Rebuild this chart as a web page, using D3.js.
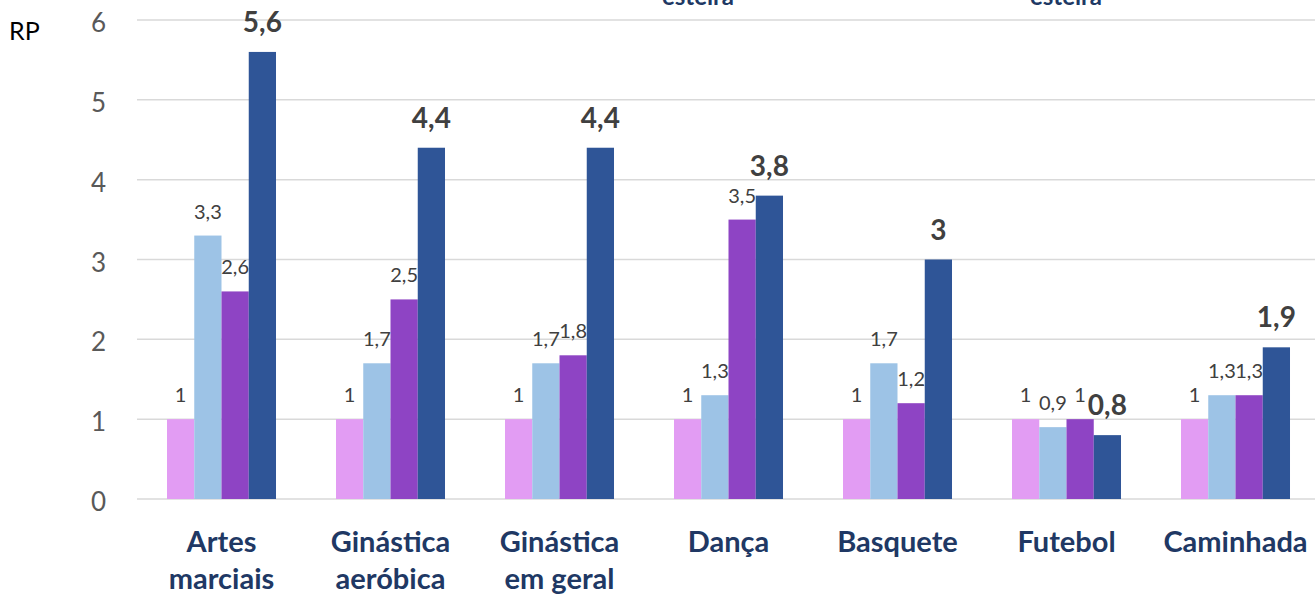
<!DOCTYPE html>
<html>
<head>
<meta charset="utf-8">
<script src="https://cdn.jsdelivr.net/npm/d3@7"></script>
<style>
  html, body { margin: 0; padding: 0; background: #fff; }
  svg { display: block; }
  text { font-family: Lato, "Open Sans", sans-serif; }
</style>
</head>
<body>
<svg id="chart" width="1315" height="594"></svg>
<script>
const categories = [
  ["Artes", "marciais"],
  ["Ginástica", "aeróbica"],
  ["Ginástica", "em geral"],
  ["Dança"],
  ["Basquete"],
  ["Futebol"],
  ["Caminhada"]
];
const seriesNames = ["s1", "s2", "s3", "s4"];
const series1 = [1, 1, 1, 1, 1, 1, 1];
const series2 = [3.3, 1.7, 1.7, 1.3, 1.7, 0.9, 1.3];
const series3 = [2.6, 2.5, 1.8, 3.5, 1.2, 1.0, 1.3];
const series4 = [5.6, 4.4, 4.4, 3.8, 3.0, 0.8, 1.9];
const yTicks = [0, 1, 2, 3, 4, 5, 6];
const legendFragments = ["esteira", "esteira"];
const colors = ["#E29CF3", "#9DC3E6", "#8E44C4", "#2F5597"];

const allSeries = [series1, series2, series3, series4];
const svg = d3.select("#chart");

const y = d3.scaleLinear().domain([0, 6]).range([499, 20]);
const x0 = d3.scaleBand().domain(d3.range(categories.length))
  .range([137, 1320]).paddingInner(0.355).paddingOuter(0.1775);
const x1 = d3.scaleBand().domain(seriesNames).range([0, x0.bandwidth()]);

// gridlines
svg.append("g").selectAll("line").data(yTicks).join("line")
  .attr("x1", 137).attr("x2", 1315)
  .attr("y1", d => y(d)).attr("y2", d => y(d))
  .attr("stroke", "#d9d9d9").attr("stroke-width", 1.5);

// y tick labels
svg.append("g").selectAll("text").data(yTicks).join("text")
  .attr("x", 106).attr("y", d => y(d) + 2)
  .attr("text-anchor", "end").attr("dominant-baseline", "central")
  .attr("fill", "#595959").attr("font-size", 26)
  .text(d => d);

svg.append("text").attr("x", 9).attr("y", 40)
  .attr("font-size", 25).attr("fill", "#000").text("RP");

// legend fragments (cut off at top)
const legendX = [698, 1066];
svg.append("g").selectAll("text").data(legendFragments).join("text")
  .attr("x", (d, i) => legendX[i]).attr("y", 5)
  .attr("text-anchor", "middle").attr("font-weight", "bold")
  .attr("font-size", 24).attr("fill", "#203864").text(d => d);

// bars
const groups = svg.append("g").selectAll("g").data(categories).join("g")
  .attr("transform", (d, i) => `translate(${x0(i)},0)`);

groups.each(function(cat, i) {
  const g = d3.select(this);
  seriesNames.forEach((s, j) => {
    const v = allSeries[j][i];
    g.append("rect")
      .attr("x", x1(s)).attr("width", x1.bandwidth())
      .attr("y", y(v)).attr("height", y(0) - y(v))
      .attr("fill", colors[j]);
  });
  seriesNames.forEach((s, j) => {
    const v = allSeries[j][i];
    const big = j === 3;
    g.append("text")
      .attr("x", x1(s) + x1.bandwidth() / 2)
      .attr("y", y(v) - (big ? 20 : 17))
      .attr("text-anchor", "middle")
      .attr("font-size", big ? 28 : 20)
      .attr("font-weight", big ? "bold" : "normal")
      .attr("fill", "#404040")
      .text(String(v).replace(".", ","));
  });
});

// category labels
const catG = svg.append("g").selectAll("text").data(categories).join("text")
  .attr("x", (d, i) => x0(i) + x0.bandwidth() / 2)
  .attr("y", 552)
  .attr("text-anchor", "middle").attr("font-weight", "bold")
  .attr("font-size", 29).attr("fill", "#203864");
catG.each(function(lines) {
  const t = d3.select(this);
  lines.forEach((ln, k) => {
    t.append("tspan").attr("x", t.attr("x")).attr("dy", k === 0 ? 0 : 37).text(ln);
  });
});
</script>
</body>
</html>
